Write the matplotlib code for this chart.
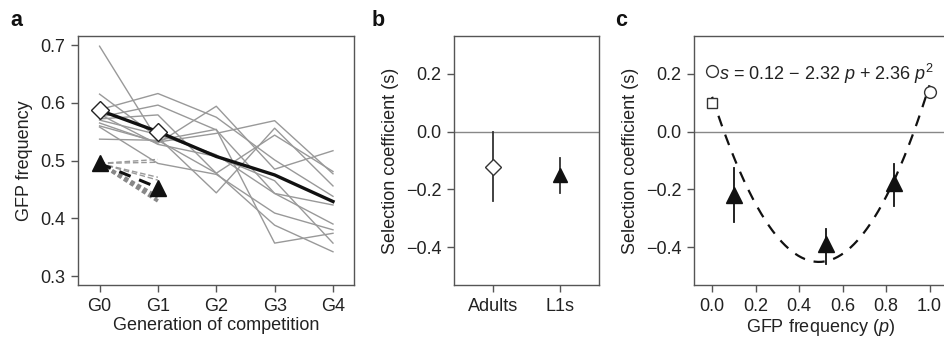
import numpy as np
import matplotlib.pyplot as plt

plt.rcParams['font.family'] = ['Liberation Sans', 'DejaVu Sans']
plt.rcParams['mathtext.fontset'] = 'custom'
plt.rcParams['mathtext.rm'] = 'Liberation Sans'
plt.rcParams['mathtext.it'] = 'Liberation Sans:italic'
plt.rcParams['font.size'] = 13

# panel a: replicate lines of GFP frequency over generations
generations = ['G0', 'G1', 'G2', 'G3', 'G4']
replicates = [
    [0.698, 0.535, 0.478, 0.388, 0.342],
    [0.615, 0.540, 0.444, 0.556, 0.456],
    [0.588, 0.616, 0.575, 0.501, 0.438],
    [0.575, 0.596, 0.553, 0.443, 0.423],
    [0.572, 0.579, 0.478, 0.544, 0.481],
    [0.565, 0.530, 0.594, 0.485, 0.517],
    [0.560, 0.532, 0.547, 0.569, 0.477],
    [0.537, 0.535, 0.554, 0.357, 0.374],
    [0.558, 0.495, 0.476, 0.409, 0.380],
    [0.570, 0.545, 0.510, 0.443, 0.390],
    [0.580, 0.528, 0.507, 0.465, 0.357],
]
mean_adults = [0.587, 0.550, 0.507, 0.475, 0.429]
l1_start = 0.495
l1_mean_end = 0.453
l1_dashed_ends = [0.502, 0.497, 0.471, 0.466]
l1_dotted_ends = [0.437, 0.430]

# panel b: selection coefficients
b_labels = ['Adults', 'L1s']
b_values = [-0.123, -0.150]
b_lower = [-0.241, -0.211]
b_upper = [0.0, -0.092]

# panel c: selection coefficient vs GFP frequency
circ_p = [0.0, 1.0]
circ_s = [0.209, 0.138]
sq_p = [0.0]
sq_s = [0.10]
tri_p = [0.101, 0.526, 0.837]
tri_s = [-0.218, -0.390, -0.179]
tri_lower = [-0.314, -0.457, -0.256]
tri_upper = [-0.125, -0.337, -0.112]
fit_coef = [0.12, -2.32, 2.36]

spine_col = '#555555'
text_col = '#222222'
fs = 13

fig = plt.figure(figsize=(9.44, 3.43), dpi=100)
ax1 = fig.add_axes([0.0826, 0.169, 0.2924, 0.726])
ax2 = fig.add_axes([0.481, 0.169, 0.1536, 0.726])
ax3 = fig.add_axes([0.735, 0.169, 0.269, 0.726])

for ax in (ax1, ax2, ax3):
    for sp in ax.spines.values():
        sp.set_color(spine_col)
        sp.set_linewidth(1.0)
    ax.tick_params(direction='out', length=5, width=1, color=spine_col,
                   labelcolor=text_col, labelsize=fs, pad=4)

# ---- panel a
x = np.arange(len(generations))
for rep in replicates:
    ax1.plot(x, rep, color='#999999', lw=1.0, zorder=1)
ax1.plot(x, mean_adults, color='#111111', lw=2.4, zorder=3)
ax1.plot(x[:2], mean_adults[:2], ls='none', marker='D', ms=9.5,
         mfc='white', mec='#222222', mew=1.0, zorder=4)
for e in l1_dashed_ends:
    ax1.plot([0, 1], [l1_start, e], color='#999999', lw=1.0, ls=(0, (4, 2)), zorder=2)
for e in l1_dotted_ends:
    ax1.plot([0, 1], [l1_start, e], color='#888888', lw=2.6, ls=(0, (1.2, 0.8)), zorder=2)
ax1.plot([0, 1], [l1_start, l1_mean_end], color='#111111', lw=2.2, ls=(0, (4, 3)), zorder=3)
ax1.plot([0, 1], [l1_start, l1_mean_end], ls='none', marker='^', ms=11,
         color='#111111', zorder=4)
ax1.set_xticks(x)
ax1.set_xticklabels(generations)
ax1.set_xlim(-0.37, 4.36)
ax1.set_ylim(0.2844, 0.7156)
ax1.set_yticks([0.3, 0.4, 0.5, 0.6, 0.7])
ax1.set_xlabel('Generation of competition', color=text_col, fontsize=fs, labelpad=2)
ax1.set_ylabel('GFP frequency', color=text_col, fontsize=fs, labelpad=5)

# ---- panel b
bx = np.arange(1, len(b_labels) + 1)
ax2.axhline(0, color='#888888', lw=1.0, zorder=1)
for i in range(len(bx)):
    ax2.plot([bx[i], bx[i]], [b_lower[i], b_upper[i]], color='#333333', lw=1.3, zorder=2)
ax2.plot(bx[0], b_values[0], ls='none', marker='D', ms=8, mfc='white',
         mec='#333333', mew=1.0, zorder=3)
ax2.plot(bx[1], b_values[1], ls='none', marker='^', ms=10, color='#111111', zorder=3)
ax2.set_xticks(bx)
ax2.set_xticklabels(b_labels)
ax2.set_xlim(0.42, 2.58)
ax2.set_ylim(-0.53, 0.33)
ax2.set_yticks([0.2, 0.0, -0.2, -0.4])
ax2.set_yticklabels(['0.2', '0.0', '\u22120.2', '\u22120.4'])
ax2.set_ylabel('Selection coefficient (s)', color=text_col, fontsize=fs, labelpad=5)

# ---- panel c
ax3.axhline(0, color='#888888', lw=1.0, zorder=1)
pp = np.linspace(0, 1, 200)
ss = fit_coef[0] + fit_coef[1] * pp + fit_coef[2] * pp ** 2
ax3.plot(pp, ss, color='#111111', lw=1.6, ls=(0, (5, 4)), zorder=2)
for i in range(len(tri_p)):
    ax3.plot([tri_p[i], tri_p[i]], [tri_lower[i], tri_upper[i]], color='#111111', lw=1.3, zorder=3)
ax3.plot(tri_p, tri_s, ls='none', marker='^', ms=11, color='#111111', zorder=4)
ax3.plot(circ_p, circ_s, ls='none', marker='o', ms=8.5, mfc='white',
         mec='#333333', mew=1.0, zorder=4)
ax3.plot(sq_p, sq_s, ls='none', marker='s', ms=7.5, mfc='white',
         mec='#333333', mew=1.0, zorder=4)
eq = '$s$ = 0.12 \u2212 2.32 $p$ + 2.36 $p^2$'
ax3.text(0.032, 0.2, eq, fontsize=fs, color=text_col, va='center', ha='left', zorder=5)
ax3.set_xlim(-0.084, 1.084)
ax3.set_ylim(-0.53, 0.33)
ax3.set_xticks([0.0, 0.2, 0.4, 0.6, 0.8, 1.0])
ax3.set_yticks([0.2, 0.0, -0.2, -0.4])
ax3.set_yticklabels(['0.2', '0.0', '\u22120.2', '\u22120.4'])
ax3.set_xlabel('GFP frequency ($p$)', color=text_col, fontsize=fs, labelpad=2)
ax3.set_ylabel('Selection coefficient (s)', color=text_col, fontsize=fs, labelpad=5)

# panel letters
for lab, xpos in (('a', 0.011), ('b', 0.394), ('c', 0.652)):
    fig.text(xpos, 0.925, lab, fontsize=15.5, fontweight='bold', color='#111111')

fig.savefig('out.png', dpi=100)
